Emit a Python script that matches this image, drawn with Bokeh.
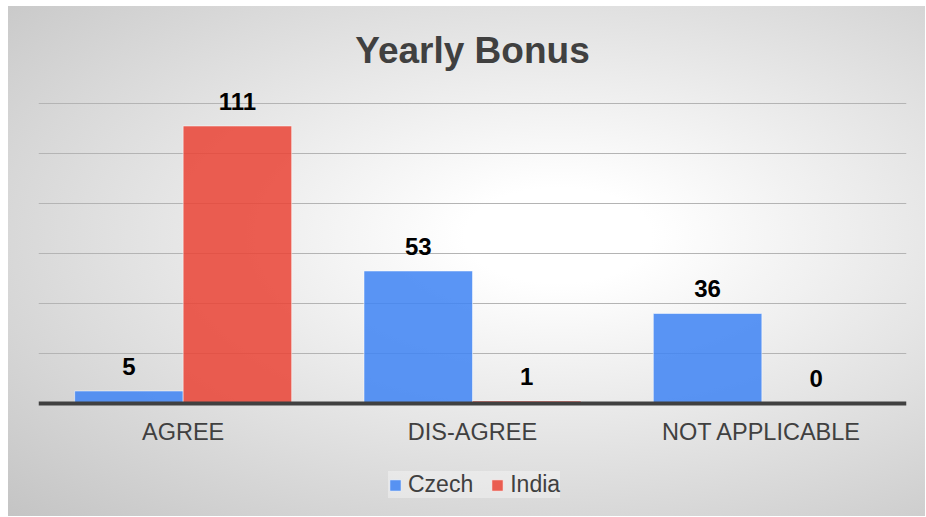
from bokeh.plotting import figure
from bokeh.models import Range1d, FixedTicker, ColumnDataSource, Legend, LegendItem
from bokeh.transform import dodge
from bokeh.core.properties import value
from bokeh.embed import file_html
from bokeh.resources import INLINE

categories = ["AGREE", "DIS-AGREE", "NOT APPLICABLE"]
czech = [5, 53, 36]
india = [111, 1, 0]
grid_ticks = [20, 40, 60, 80, 100, 120]

src = ColumnDataSource(dict(
    cat=categories, czech=czech, india=india,
    czech_lbl=[str(v) for v in czech], india_lbl=[str(v) for v in india],
))

FONT = "Liberation Sans"
p = figure(width=917, height=510, x_range=categories, y_range=Range1d(-44, 126),
           output_backend="svg", toolbar_location=None,
           min_border_left=30, min_border_right=19, min_border_top=82, min_border_bottom=3,
           title="Yearly Bonus")
p.styles = {"margin-left": "8px", "margin-top": "6px",
            "background-image": "radial-gradient(ellipse farthest-corner at 60% 45%, #ffffff 0%, #ffffff 12%, #c4c4c4 100%)"}
p.background_fill_alpha = 0
p.border_fill_alpha = 0
p.outline_line_color = None
p.x_range.range_padding = 0

p.title.align = "center"
p.title.text_font = FONT
p.title.text_font_size = "37px"
p.title.text_font_style = "bold"
p.title.text_color = "#404040"
p.title.standoff = 36

bw = 0.375
r1 = p.vbar(x=dodge("cat", -bw / 2, range=p.x_range), top="czech", width=bw, source=src,
            fill_color="#4285F4", fill_alpha=0.87, line_color="white", line_alpha=0.5, line_width=1)
r2 = p.vbar(x=dodge("cat", bw / 2, range=p.x_range), top="india", width=bw, source=src,
            fill_color="#EA4335", fill_alpha=0.85, line_color="white", line_alpha=0.5, line_width=1)

for col, lbl, off in (("czech", "czech_lbl", -bw / 2), ("india", "india_lbl", bw / 2)):
    p.text(x=dodge("cat", off, range=p.x_range), y=col, text=lbl, source=src,
           text_align="center", text_baseline="alphabetic", y_offset=-25,
           text_font=value(FONT), text_font_size="24px", text_font_style="bold",
           text_color="#000000")

p.yaxis.visible = False
p.xgrid.visible = False
p.ygrid.ticker = FixedTicker(ticks=grid_ticks)
p.ygrid.grid_line_color = "#b4b4b4"
p.ygrid.grid_line_width = 1

ax = p.xaxis[0]
ax.fixed_location = 0
ax.axis_line_color = "#404040"
ax.axis_line_width = 4
ax.major_tick_line_color = None
ax.minor_tick_line_color = None
ax.major_label_text_font = FONT
ax.major_label_text_font_size = "23.5px"
ax.major_label_text_color = "#404040"
ax.major_label_standoff = 9

legend = Legend(items=[LegendItem(label="Czech", renderers=[r1]),
                       LegendItem(label="India", renderers=[r2])],
                orientation="horizontal", location=(350, 15),
                glyph_width=14, glyph_height=14, label_standoff=6, spacing=17,
                padding=14, margin=0,
                label_text_font=FONT, label_text_font_size="23px", label_text_color="#404040",
                background_fill_color="#ffffff", background_fill_alpha=0.35,
                border_line_color=None)
p.add_layout(legend, "center")

open("out.html", "w").write(file_html(p, INLINE))
